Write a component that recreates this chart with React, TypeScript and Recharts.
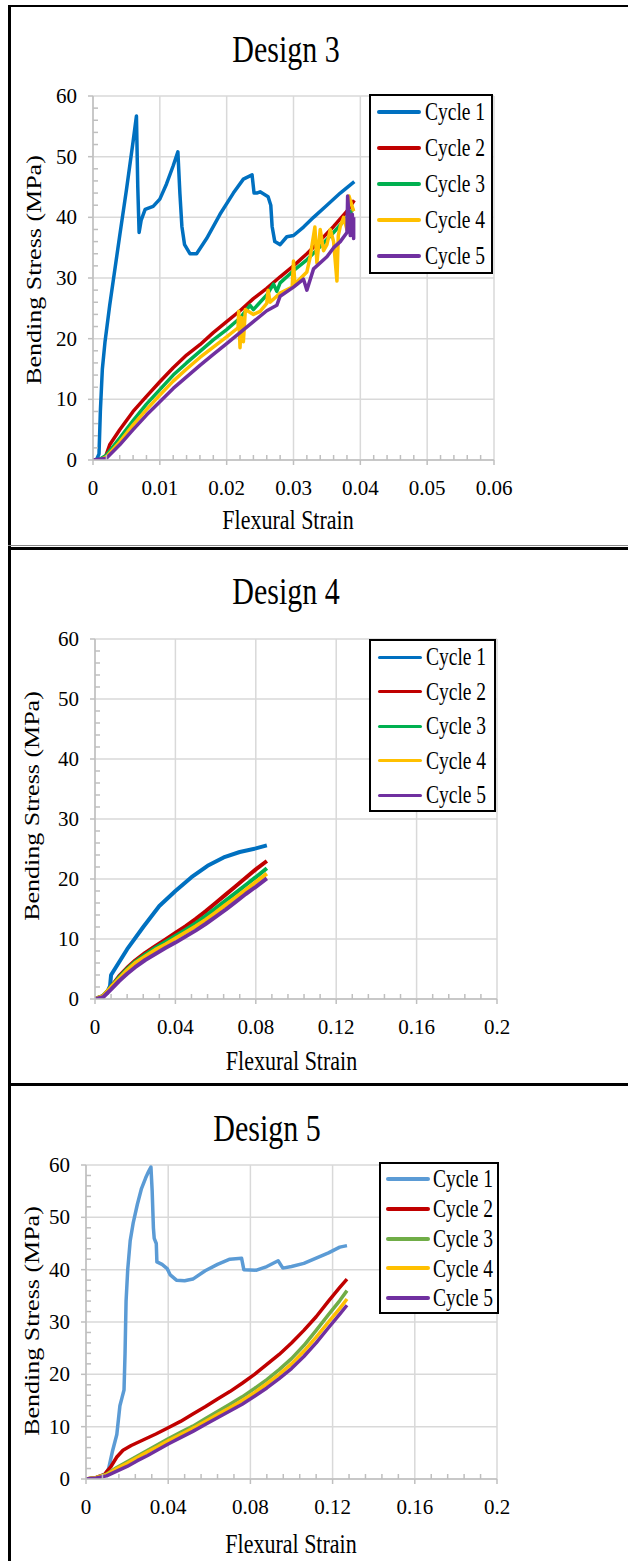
import React from "react";
import { CartesianGrid, Legend, Line, LineChart, XAxis, YAxis } from "recharts";

const FONT = '"Liberation Serif", "Times New Roman", Times, serif';
const GRID_COLOR = "#d9d9d9";
const AXIS_COLOR = "#bfbfbf";

type Pt = [number, number];

const CYCLE_NAMES = ["Cycle 1", "Cycle 2", "Cycle 3", "Cycle 4", "Cycle 5"];
const COLORS_DARK = ["#0070C0", "#C00000", "#00B050", "#FFC000", "#7030A0"];
const COLORS_LIGHT = ["#5B9BD5", "#C00000", "#70AD47", "#FFC000", "#7030A0"];

const STRESS_TICKS = [0, 10, 20, 30, 40, 50, 60];
const D3_STRAIN_TICKS = [0, 0.01, 0.02, 0.03, 0.04, 0.05, 0.06];
const D45_STRAIN_TICKS = [0, 0.04, 0.08, 0.12, 0.16, 0.2];

// Design 3 (strain, stress MPa)
const D3_C1: Pt[] = [
  [0, 0], [0.0005, 0], [0.0009, 1], [0.0011, 8], [0.0014, 15], [0.0018, 19.5], [0.0025, 25.5],
  [0.004, 37], [0.005, 44.5], [0.006, 52.5], [0.0065, 56.7], [0.0067, 45], [0.0069, 37.5],
  [0.0072, 39.5], [0.0078, 41.3], [0.009, 41.8], [0.01, 43], [0.011, 45.5], [0.012, 48.5],
  [0.0127, 50.8], [0.013, 44], [0.0133, 38.5], [0.0137, 35.5], [0.0145, 34], [0.0155, 34],
  [0.017, 36.5], [0.019, 40.5], [0.021, 44], [0.0225, 46.3], [0.0238, 47], [0.0241, 44],
  [0.0245, 44], [0.025, 44.2], [0.0262, 43.4], [0.0266, 42], [0.0268, 38.5], [0.0272, 36],
  [0.028, 35.5], [0.029, 36.8], [0.03, 37], [0.0315, 38.4], [0.033, 40], [0.035, 42],
  [0.037, 44], [0.0391, 45.9],
];
const D3_C2: Pt[] = [
  [0, 0], [0.0012, 0], [0.0018, 0.3], [0.0025, 2.5], [0.004, 5], [0.006, 8], [0.008, 10.5],
  [0.01, 12.9], [0.012, 15.2], [0.014, 17.3], [0.016, 19], [0.018, 21], [0.02, 22.8],
  [0.022, 24.6], [0.024, 26.6], [0.026, 28.3], [0.028, 30.2], [0.03, 32], [0.032, 34],
  [0.034, 36.2], [0.036, 38.5], [0.038, 41], [0.0391, 42.8],
];
const D3_C3: Pt[] = [
  [0, 0], [0.0008, 0], [0.002, 0.8], [0.004, 3.6], [0.006, 6.5], [0.008, 9.2], [0.01, 11.6],
  [0.012, 14], [0.014, 16], [0.016, 17.9], [0.018, 19.8], [0.02, 21.5], [0.022, 23.4],
  [0.0235, 25.5], [0.024, 24.8], [0.026, 27.2], [0.027, 29], [0.0275, 27.8], [0.028, 29.2],
  [0.03, 31.2], [0.032, 33], [0.034, 35.2], [0.036, 37.5], [0.038, 40], [0.039, 41.5],
];
const D3_C4: Pt[] = [
  [0, 0], [0.001, 0], [0.002, 0.5], [0.004, 3], [0.006, 5.8], [0.008, 8.3], [0.01, 10.7],
  [0.012, 13], [0.014, 15], [0.016, 16.9], [0.018, 18.6], [0.02, 20.3], [0.0217, 21.8],
  [0.0218, 24.5], [0.022, 18.5], [0.0222, 23.5], [0.0225, 19.5], [0.0228, 24.8], [0.024, 24],
  [0.025, 24.5], [0.026, 25.8], [0.0262, 28], [0.0265, 26], [0.028, 27.5], [0.0298, 28.5],
  [0.03, 32.8], [0.0302, 29], [0.032, 31], [0.0325, 33.5], [0.0332, 38.4], [0.0335, 32.5],
  [0.034, 38], [0.0345, 34.5], [0.035, 35.5], [0.0355, 38], [0.036, 36], [0.0365, 29.5],
  [0.0367, 37], [0.037, 38.5], [0.0375, 40], [0.038, 38], [0.0383, 43.5], [0.039, 41],
];
const D3_C5: Pt[] = [
  [0, 0], [0.002, 0.3], [0.004, 2.5], [0.006, 5], [0.008, 7.4], [0.01, 9.6], [0.012, 11.8],
  [0.014, 13.7], [0.016, 15.6], [0.018, 17.4], [0.02, 19.2], [0.022, 21], [0.024, 22.8],
  [0.026, 24.6], [0.0275, 25.5], [0.028, 27], [0.03, 28.5], [0.0315, 29.8], [0.032, 28],
  [0.033, 31.5], [0.035, 33.5], [0.036, 35], [0.037, 36], [0.038, 37.5], [0.0381, 43.5],
  [0.0385, 37], [0.0388, 40.5], [0.039, 36.5], [0.039, 40],
];

// Design 4
const D4_C1: Pt[] = [
  [0, 0], [0.003, 0.3], [0.006, 1], [0.0075, 2.2], [0.008, 4], [0.016, 8.3], [0.024, 12],
  [0.032, 15.5], [0.04, 18], [0.048, 20.3], [0.056, 22.2], [0.064, 23.6], [0.072, 24.5],
  [0.08, 25.1], [0.0855, 25.6],
];
const D4_C2: Pt[] = [
  [0, 0], [0.004, 0.5], [0.008, 2], [0.012, 3.8], [0.016, 5.2], [0.02, 6.4], [0.025, 7.7],
  [0.03, 8.8], [0.035, 9.9], [0.04, 11], [0.045, 12.1], [0.05, 13.3], [0.055, 14.6],
  [0.06, 16], [0.065, 17.4], [0.07, 18.8], [0.075, 20.2], [0.08, 21.6], [0.0855, 23],
];
const D4_C3: Pt[] = [
  [0, 0], [0.004, 0.5], [0.008, 2], [0.012, 3.6], [0.016, 5], [0.02, 6.2], [0.025, 7.4],
  [0.03, 8.5], [0.035, 9.5], [0.04, 10.5], [0.045, 11.5], [0.05, 12.6], [0.055, 13.8],
  [0.06, 15.1], [0.065, 16.4], [0.07, 17.7], [0.075, 19], [0.08, 20.3], [0.0855, 21.8],
];
const D4_C4: Pt[] = [
  [0, 0], [0.004, 0.5], [0.008, 2], [0.012, 3.4], [0.016, 4.8], [0.02, 6], [0.025, 7.1],
  [0.03, 8.2], [0.035, 9.1], [0.04, 10.1], [0.045, 11.1], [0.05, 12.1], [0.055, 13.2],
  [0.06, 14.4], [0.065, 15.7], [0.07, 16.9], [0.075, 18.2], [0.08, 19.5], [0.0855, 20.9],
];
const D4_C5: Pt[] = [
  [0, 0], [0.004, 0.3], [0.008, 1.6], [0.012, 3], [0.016, 4.2], [0.02, 5.3], [0.025, 6.5],
  [0.03, 7.5], [0.035, 8.5], [0.04, 9.4], [0.045, 10.4], [0.05, 11.4], [0.055, 12.5],
  [0.06, 13.7], [0.065, 14.9], [0.07, 16.2], [0.075, 17.5], [0.08, 18.7], [0.0855, 20.1],
];

// Design 5
const D5_C1: Pt[] = [
  [0, 0], [0.005, 0.2], [0.009, 0.7], [0.011, 2], [0.013, 5.5], [0.015, 8.5], [0.0165, 14],
  [0.0175, 15.5], [0.0185, 17], [0.019, 24], [0.0195, 34], [0.0203, 40], [0.0215, 45.5],
  [0.023, 49], [0.025, 52.5], [0.027, 55.5], [0.029, 57.5], [0.0305, 58.8], [0.0316, 59.6],
  [0.0322, 55], [0.0328, 48], [0.0332, 46], [0.0342, 45], [0.0345, 41.5], [0.037, 41],
  [0.0395, 40.2], [0.041, 39], [0.044, 38], [0.048, 37.9], [0.052, 38.2], [0.058, 39.8],
  [0.064, 41], [0.07, 42], [0.0757, 42.2], [0.0768, 40], [0.083, 39.9], [0.088, 40.6],
  [0.0935, 41.7], [0.0958, 40.3], [0.1, 40.6], [0.106, 41.2], [0.112, 42.2], [0.118, 43.2],
  [0.1235, 44.3], [0.127, 44.6],
];
const D5_C2: Pt[] = [
  [0, 0], [0.005, 0.3], [0.009, 0.9], [0.012, 2.3], [0.015, 4.2], [0.018, 5.5], [0.022, 6.4],
  [0.028, 7.5], [0.034, 8.6], [0.04, 9.8], [0.046, 11], [0.052, 12.4], [0.058, 13.8],
  [0.064, 15.3], [0.07, 16.7], [0.076, 18.3], [0.082, 20], [0.088, 21.9], [0.094, 23.8],
  [0.1, 26], [0.106, 28.4], [0.112, 31], [0.118, 34], [0.1235, 36.6], [0.127, 38.2],
];
const D5_C3: Pt[] = [
  [0, 0], [0.005, 0.3], [0.01, 0.9], [0.015, 2.2], [0.02, 3.3], [0.025, 4.4], [0.03, 5.5],
  [0.035, 6.6], [0.04, 7.7], [0.046, 8.9], [0.052, 10.1], [0.058, 11.5], [0.064, 12.9],
  [0.07, 14.3], [0.076, 15.7], [0.082, 17.3], [0.088, 19], [0.094, 20.9], [0.1, 23],
  [0.106, 25.5], [0.112, 28.4], [0.118, 31.4], [0.1235, 34.1], [0.127, 36],
];
const D5_C4: Pt[] = [
  [0, 0], [0.005, 0.3], [0.01, 0.8], [0.015, 2], [0.02, 3], [0.025, 4.1], [0.03, 5.2],
  [0.035, 6.2], [0.04, 7.3], [0.046, 8.5], [0.052, 9.7], [0.058, 11], [0.064, 12.3],
  [0.07, 13.6], [0.076, 15], [0.082, 16.5], [0.088, 18.2], [0.094, 20], [0.1, 22],
  [0.106, 24.4], [0.112, 27.1], [0.118, 30], [0.1235, 32.6], [0.127, 34.4],
];
const D5_C5: Pt[] = [
  [0, 0], [0.005, 0.2], [0.01, 0.6], [0.015, 1.5], [0.02, 2.4], [0.025, 3.5], [0.03, 4.5],
  [0.035, 5.6], [0.04, 6.7], [0.046, 7.9], [0.052, 9.1], [0.058, 10.4], [0.064, 11.7],
  [0.07, 13], [0.076, 14.3], [0.082, 15.8], [0.088, 17.4], [0.094, 19.2], [0.1, 21.1],
  [0.106, 23.4], [0.112, 26], [0.118, 28.9], [0.1235, 31.5], [0.127, 33.2],
];

// majors plus 4 minor ticks per major interval
function withMinors(majors: number[]) {
  const out: number[] = [];
  for (let i = 0; i < majors.length - 1; i++) {
    const step = (majors[i + 1] - majors[i]) / 5;
    for (let k = 0; k < 5; k++) out.push(+(majors[i] + step * k).toFixed(6));
  }
  out.push(majors[majors.length - 1]);
  return out;
}

const isMajor = (majors: number[], v: number) => majors.some((m) => Math.abs(m - v) < 1e-9);

interface LegendCfg {
  left: number;
  top: number;
  width: number;
  height: number;
  firstRow: number;
  rowH: number;
  lineX: number;
  textX: number;
  lineW: number;
}

interface PanelCfg {
  top: number;
  height: number;
  title: string;
  titlePos: [number, number];
  xTitlePos: [number, number];
  yTitlePos: [number, number];
  margin: { top: number; left: number; right: number; bottom: number };
  xTicks: number[];
  colors: string[];
  lineWidth: number;
  series: Pt[][];
  legend: LegendCfg;
}

const PANELS: PanelCfg[] = [
  {
    top: 0,
    height: 547,
    title: "Design 3",
    titlePos: [286, 48.5],
    xTitlePos: [288, 519.5],
    yTitlePos: [34, 270],
    margin: { top: 96, left: 53, right: 134, bottom: 47 },
    xTicks: D3_STRAIN_TICKS,
    colors: COLORS_DARK,
    lineWidth: 3.5,
    series: [D3_C1, D3_C2, D3_C3, D3_C4, D3_C5],
    legend: { left: 369, top: 94, width: 124, height: 180, firstRow: 18, rowH: 36, lineX: 8, textX: 56, lineW: 4 },
  },
  {
    top: 547,
    height: 537,
    title: "Design 4",
    titlePos: [286, 44],
    xTitlePos: [291.5, 514],
    yTitlePos: [32, 259],
    margin: { top: 92, left: 55, right: 131, bottom: 45 },
    xTicks: D45_STRAIN_TICKS,
    colors: COLORS_DARK,
    lineWidth: 4,
    series: [D4_C1, D4_C2, D4_C3, D4_C4, D4_C5],
    legend: { left: 369, top: 92, width: 127, height: 173, firstRow: 18, rowH: 34.5, lineX: 9, textX: 57, lineW: 3 },
  },
  {
    top: 1084,
    height: 477,
    title: "Design 5",
    titlePos: [267, 43.5],
    xTitlePos: [291, 460],
    yTitlePos: [32, 237],
    margin: { top: 81, left: 46, right: 131, bottom: 42 },
    xTicks: D45_STRAIN_TICKS,
    colors: COLORS_LIGHT,
    lineWidth: 3.5,
    series: [D5_C1, D5_C2, D5_C3, D5_C4, D5_C5],
    legend: { left: 379, top: 78, width: 120, height: 152, firstRow: 17, rowH: 29.8, lineX: 7, textX: 54, lineW: 4 },
  },
];

// Excel-like ticks: majors outside with a label, minors inside without
function XTick({ x, y, payload, majors }: any) {
  const v = payload.value as number;
  const major = isMajor(majors, v);
  return (
    <g>
      <line x1={x} x2={x} y1={y} y2={major ? y + 5 : y - 5} stroke={AXIS_COLOR} strokeWidth={1.5} />
      {major && (
        <text x={x} y={y + 28} dy="0.34em" textAnchor="middle" style={{ fontFamily: FONT }} fontSize={21} fill="#000">
          {String(v)}
        </text>
      )}
    </g>
  );
}

function YTick({ x, y, payload }: any) {
  const v = payload.value as number;
  const major = isMajor(STRESS_TICKS, v);
  return (
    <g>
      <line x1={major ? x - 5 : x} x2={major ? x : x + 5} y1={y} y2={y} stroke={AXIS_COLOR} strokeWidth={1.5} />
      {major && (
        <text x={x - 16} y={y} dy="0.34em" textAnchor="end" style={{ fontFamily: FONT }} fontSize={21} fill="#000">
          {String(v)}
        </text>
      )}
    </g>
  );
}

function TextAt({ x, y, size, extra, children }: { x: number; y: number; size: number; extra?: string; children: React.ReactNode }) {
  return (
    <div
      style={{
        position: "absolute",
        left: x,
        top: y,
        fontFamily: FONT,
        fontSize: size,
        lineHeight: 1,
        whiteSpace: "nowrap",
        color: "#000",
        transform: `translate(-50%, -50%) ${extra ?? ""}`,
        zIndex: 2,
      }}
    >
      {children}
    </div>
  );
}

function CycleLegend({ cfg, payload }: { cfg: LegendCfg; payload?: { value?: string; color?: string }[] }) {
  const items = payload ?? [];
  return (
    <div
      style={{
        position: "relative",
        boxSizing: "border-box",
        width: cfg.width,
        height: cfg.height,
        border: "2px solid #000",
        background: "#fff",
      }}
    >
      {items.map((p, i) => (
        <div
          key={i}
          style={{
            position: "absolute",
            left: 0,
            top: cfg.firstRow - 2 + i * cfg.rowH - cfg.rowH / 2,
            height: cfg.rowH,
            width: "100%",
            display: "flex",
            alignItems: "center",
          }}
        >
          <span
            style={{
              position: "absolute",
              left: cfg.lineX - 2,
              width: 44,
              height: cfg.lineW,
              borderRadius: cfg.lineW / 2,
              background: p.color,
            }}
          />
          <span
            style={{
              position: "absolute",
              left: cfg.textX - 2,
              fontFamily: FONT,
              fontSize: 19.5,
              lineHeight: 1,
              color: "#000",
              whiteSpace: "nowrap",
              transform: "scaleY(1.3)",
            }}
          >
            {p.value}
          </span>
        </div>
      ))}
    </div>
  );
}

function Panel({ cfg }: { cfg: PanelCfg }) {
  const xMax = cfg.xTicks[cfg.xTicks.length - 1];
  return (
    <div style={{ position: "absolute", left: 0, top: cfg.top, width: 628, height: cfg.height, fontFamily: FONT }}>
      <LineChart width={628} height={cfg.height} margin={cfg.margin} style={{ fontFamily: FONT }}>
        <CartesianGrid
          stroke={GRID_COLOR}
          strokeWidth={1.5}
          horizontalValues={STRESS_TICKS}
          verticalValues={cfg.xTicks}
        />
        <XAxis
          type="number"
          dataKey="x"
          domain={[0, xMax]}
          ticks={withMinors(cfg.xTicks)}
          interval={0}
          allowDataOverflow
          height={40}
          tickSize={0}
          tickMargin={0}
          tickLine={false}
          axisLine={{ stroke: AXIS_COLOR, strokeWidth: 1.5 }}
          tick={<XTick majors={cfg.xTicks} />}
        />
        <YAxis
          type="number"
          domain={[0, 60]}
          ticks={withMinors(STRESS_TICKS)}
          interval={0}
          allowDataOverflow
          width={40}
          tickSize={0}
          tickMargin={0}
          tickLine={false}
          axisLine={{ stroke: AXIS_COLOR, strokeWidth: 1.5 }}
          tick={<YTick />}
        />
        {cfg.series.map((pts, i) => (
          <Line
            key={CYCLE_NAMES[i]}
            name={CYCLE_NAMES[i]}
            data={pts.map(([x, y]) => ({ x, y }))}
            dataKey="y"
            type="linear"
            stroke={cfg.colors[i]}
            strokeWidth={cfg.lineWidth}
            strokeLinejoin="round"
            dot={false}
            activeDot={false}
            isAnimationActive={false}
          />
        ))}
        <Legend
          layout="vertical"
          align="center"
          verticalAlign="middle"
          wrapperStyle={{ left: cfg.legend.left, top: cfg.legend.top, width: cfg.legend.width, height: cfg.legend.height }}
          content={(props: any) => <CycleLegend cfg={cfg.legend} payload={props.payload} />}
        />
      </LineChart>
      <TextAt x={cfg.titlePos[0]} y={cfg.titlePos[1]} size={30} extra="scaleY(1.25)">
        {cfg.title}
      </TextAt>
      <TextAt x={cfg.xTitlePos[0]} y={cfg.xTitlePos[1]} size={22} extra="scaleY(1.25)">
        Flexural Strain
      </TextAt>
      <TextAt x={cfg.yTitlePos[0]} y={cfg.yTitlePos[1]} size={20} extra="rotate(-90deg) scaleX(1.3)">
        Bending Stress (MPa)
      </TextAt>
    </div>
  );
}

export default function App() {
  return (
    <div style={{ position: "relative", width: 628, height: 1561, overflow: "hidden", background: "#fff" }}>
      <style>{"body{margin:0;}"}</style>
      {PANELS.map((p) => (
        <Panel key={p.title} cfg={p} />
      ))}
      {/* frame lines */}
      <div style={{ position: "absolute", left: 8, top: 5, width: 2.5, height: 1556, background: "#000" }} />
      <div style={{ position: "absolute", left: 8, top: 5, width: 620, height: 2, background: "#000" }} />
      <div style={{ position: "absolute", left: 8, top: 545, width: 620, height: 1, background: "#888" }} />
      <div style={{ position: "absolute", left: 8, top: 546.5, width: 620, height: 3, background: "#000" }} />
      <div style={{ position: "absolute", left: 8, top: 1083, width: 620, height: 3, background: "#000" }} />
    </div>
  );
}
